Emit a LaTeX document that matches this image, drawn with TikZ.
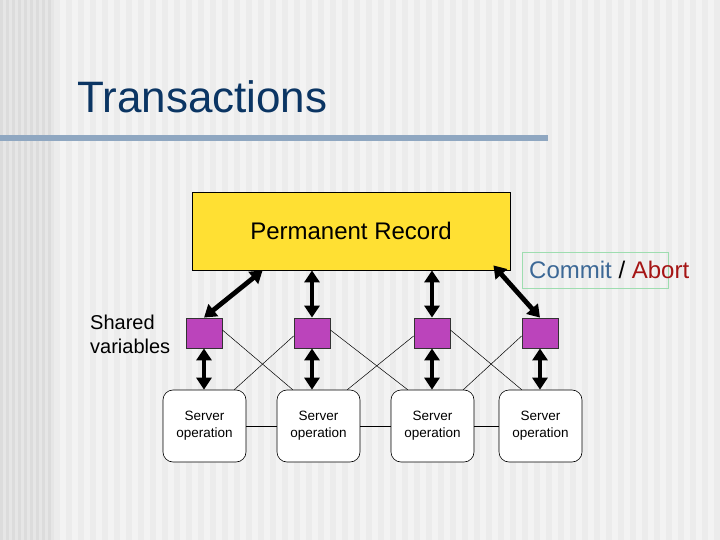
\documentclass[tikz,border=0pt]{standalone}
\usepackage{fontspec}
\setmainfont{Liberation Sans}
\usetikzlibrary{arrows.meta,calc}
\definecolor{bgA}{HTML}{F3F3F3}
\definecolor{bgB}{HTML}{ECECEC}
\definecolor{lsA}{HTML}{DCDCDC}
\definecolor{lsB}{HTML}{E6E6E6}
\definecolor{titleblue}{HTML}{0B3563}
\definecolor{barblue}{HTML}{8FA7C1}
\definecolor{recyellow}{HTML}{FFE033}
\definecolor{varpurple}{HTML}{BB44BB}
\definecolor{commitblue}{HTML}{3C6896}
\definecolor{abortred}{HTML}{A51515}
\definecolor{boxgreen}{HTML}{9EDDB0}
\tikzset{
  recbox/.style={draw=black, fill=recyellow, line width=0.8pt, minimum width=318pt, minimum height=78pt, inner sep=0pt, font=\fontsize{24}{28}\selectfont},
  varbox/.style={draw=black!80, fill=varpurple, line width=0.8pt, minimum width=36pt, minimum height=30pt, inner sep=0pt},
  srvbox/.style={draw=black, fill=white, rounded corners=10pt, line width=0.6pt, minimum width=83pt, minimum height=72pt, inner sep=0pt, align=center, font=\fontsize{13.5}{17}\selectfont},
  bigarrow/.style={line width=4.8pt, {Triangle[width=15pt,length=12pt]}-{Triangle[width=15pt,length=12pt]}},
  thinline/.style={line width=0.5pt, black},
}
\begin{document}
\begin{tikzpicture}[x=1pt,y=-1pt]
\useasboundingbox (0,0) rectangle (720,540);
% background stripes
\fill[bgA] (0,0) rectangle (720,540);
\foreach \i in {0,...,55} {
  \fill[bgB] ({54+\i*12},0) rectangle ({60+\i*12},540);
}
\foreach \i in {0,...,8} {
  \fill[lsA] ({\i*6},0) rectangle ({\i*6+3},540);
  \fill[lsB] ({\i*6+3},0) rectangle ({\i*6+6},540);
}
% title
\node[anchor=base west, inner sep=0pt, text=titleblue, font=\fontsize{44}{50}\selectfont] (title) at (77,113) {Transactions};
\fill[barblue] (0,135) rectangle (548,141);
% permanent record
\node[recbox] (PR) at (351,231) {Permanent Record};
% commit / abort
\node[draw=boxgreen, line width=0.6pt, minimum width=146pt, minimum height=36pt, inner sep=0pt] (cbox) at (595,270) {};
\node[anchor=west, inner sep=0pt, font=\fontsize{24}{28}\selectfont] (commit) at (529,270) {\textcolor{commitblue}{Commit} / \textcolor{abortred}{Abort}};
% shared variables label
\node[anchor=north west, inner sep=0pt, align=left, font=\fontsize{20}{24}\selectfont] (shared) at (90,315) {Shared\\variables};
% variables
\node[varbox] (v1) at (204,333) {};
\node[varbox] (v2) at (312,333) {};
\node[varbox] (v3) at (432,333) {};
\node[varbox] (v4) at (540,333) {};
% servers
\node[srvbox] (s1) at (204.5,426) {Server\\operation};
\node[srvbox] (s2) at (318.5,426) {Server\\operation};
\node[srvbox] (s3) at (432.5,426) {Server\\operation};
\node[srvbox] (s4) at (540.5,426) {Server\\operation};
% thin connections
\draw[thinline] (s1.east) -- (s2.west);
\draw[thinline] (s2.east) -- (s3.west);
\draw[thinline] (s3.east) -- (s4.west);
\draw[thinline] ([yshift=3pt]v1.east) -- ([xshift=16pt]s2.north west);
\draw[thinline] ([xshift=-12pt]s1.north east) -- ([yshift=-3pt]v2.west);
\draw[thinline] ([yshift=3pt]v2.east) -- ([xshift=17pt]s3.north west);
\draw[thinline] ([xshift=-13pt]s2.north east) -- ([yshift=-3pt]v3.west);
\draw[thinline] ([yshift=3pt]v3.east) -- ([xshift=23pt]s4.north west);
\draw[thinline] ([xshift=-11pt]s3.north east) -- ([yshift=-3pt]v4.west);
% arrows record <-> variables
\draw[bigarrow] ([xshift=71pt]PR.south west) -- (v1.north);
\draw[bigarrow] (v2.north |- PR.south) -- (v2.north);
\draw[bigarrow] (v3.north |- PR.south) -- (v3.north);
\draw[bigarrow] ([xshift=-17pt,yshift=5pt]PR.south east) -- (v4.north);
% arrows variables <-> servers
\draw[bigarrow] (v1.south) -- (v1.south |- s1.north);
\draw[bigarrow] (v2.south) -- (v2.south |- s2.north);
\draw[bigarrow] (v3.south) -- (v3.south |- s3.north);
\draw[bigarrow] (v4.south) -- (v4.south |- s4.north);
\end{tikzpicture}
\end{document}
